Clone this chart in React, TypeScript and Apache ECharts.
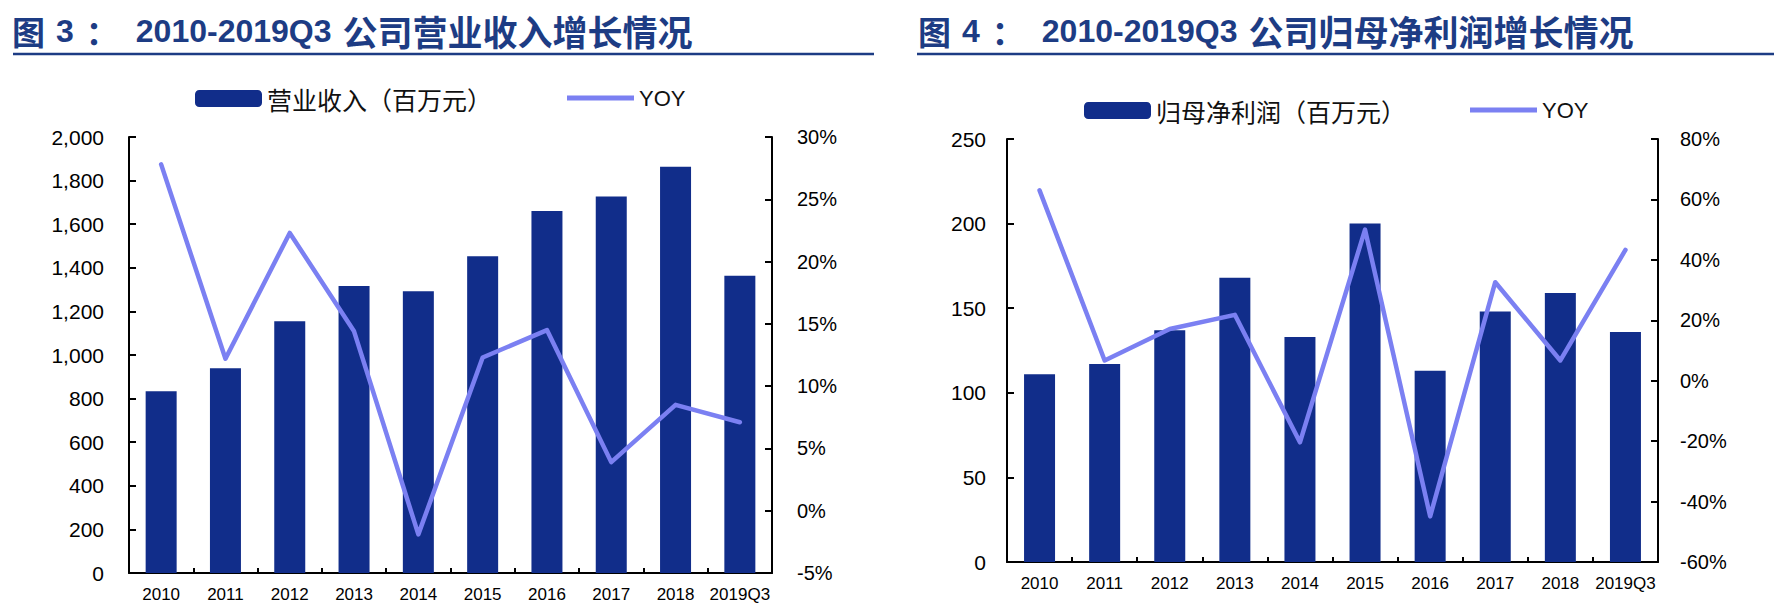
import React, { useEffect, useRef } from 'react';
import * as echarts from 'echarts';

const categories = ['2010', '2011', '2012', '2013', '2014', '2015', '2016', '2017', '2018', '2019Q3'];

// 图3: 营业收入 (百万元) and YOY (%)
const revenue = [834, 939, 1155, 1317, 1293, 1453, 1660, 1727, 1864, 1363];
const revenueYoy = [27.8, 12.2, 22.3, 14.4, -1.9, 12.3, 14.5, 3.9, 8.5, 7.1];

// 图4: 归母净利润 (百万元) and YOY (%)
const profit = [111, 117, 137, 168, 133, 200, 113, 148, 159, 136];
const profitYoy = [63.0, 6.7, 17.1, 21.8, -20.4, 50.0, -44.9, 32.6, 6.7, 43.3];

const BAR = '#112d8a';
const LINE = '#7b80f2';
const TITLE = '#1d3c84';
const NUM_FONT = '"Liberation Sans", Arial, sans-serif';
const CJK_FONT = '"Noto Sans CJK SC", sans-serif';

const titleRich = {
  a: { fontFamily: CJK_FONT, fontSize: 33, color: TITLE },
  n: { fontFamily: NUM_FONT, fontSize: 32, fontWeight: 'bold', color: TITLE, padding: [0, 0, 0, 11] },
  c: { fontFamily: CJK_FONT, fontSize: 33, color: TITLE, padding: [0, 0, 0, 12] },
  b: { fontFamily: NUM_FONT, fontSize: 32, fontWeight: 'bold', color: TITLE, padding: [0, 0, 0, 17] },
  d: { fontFamily: CJK_FONT, fontSize: 35, color: TITLE, padding: [0, 0, 0, 11] },
};

const legendText = {
  fontFamily: CJK_FONT,
  fontSize: 25,
  color: '#111',
};

const yoyText = { fontFamily: NUM_FONT, fontSize: 22, color: '#111' };

const App = () => {
  const chartRef = useRef<any>(null);

  useEffect(() => {
    const chart = echarts.init(chartRef.current, null, { renderer: 'svg' });

    const valueAxis = (grid: number, min: number, max: number, interval: number, right: boolean, margin: number, size: number, fmt: any) => ({
      type: 'value',
      gridIndex: grid,
      position: right ? 'right' : 'left',
      min,
      max,
      interval,
      splitLine: { show: false },
      axisLine: { show: true, lineStyle: { color: '#000', width: 2 } },
      axisTick: { show: true, inside: true, length: 7, lineStyle: { color: '#000', width: 2 } },
      axisLabel: {
        margin,
        fontFamily: NUM_FONT,
        fontSize: size,
        color: '#000',
        formatter: fmt,
      },
    });

    const catAxis = (grid: number) => ({
      type: 'category',
      gridIndex: grid,
      data: categories,
      axisLine: { show: true, lineStyle: { color: '#000', width: 2 } },
      axisTick: { show: true, inside: true, length: 5, lineStyle: { color: '#000', width: 2 } },
      axisLabel: { margin: 13, fontFamily: NUM_FONT, fontSize: 17, color: '#000', interval: 0 },
    });

    const thousands = (v: number) => v.toLocaleString('en-US');
    const pct = (v: number) => v + '%';

    const option: any = {
      animation: false,
      backgroundColor: '#fff',
      title: [
        {
          text: '{a|图}{n|3}{c|：}{b|2010-2019Q3}{d|公司营业收入增长情况}',
          left: 12,
          top: 13,
          padding: 0,
          textStyle: { rich: titleRich },
        },
        {
          text: '{a|图}{n|4}{c|：}{b|2010-2019Q3}{d|公司归母净利润增长情况}',
          left: 918,
          top: 13,
          padding: 0,
          textStyle: { rich: titleRich },
        },
      ],
      graphic: [
        { type: 'line', shape: { x1: 13, y1: 54, x2: 874, y2: 54 }, style: { stroke: TITLE, lineWidth: 2.5 } },
        { type: 'line', shape: { x1: 917, y1: 54, x2: 1774, y2: 54 }, style: { stroke: TITLE, lineWidth: 2.5 } },
      ],
      legend: [
        { data: ['营业收入（百万元）'], left: 195, top: 86, padding: 0, itemWidth: 67, itemHeight: 17, textStyle: legendText },
        { data: [{ name: 'YOY', icon: 'rect' }], left: 567, top: 87, padding: 0, itemWidth: 67, itemHeight: 5, textStyle: yoyText },
        { data: ['归母净利润（百万元）'], left: 1084, top: 98, padding: 0, itemWidth: 67, itemHeight: 17, textStyle: legendText },
        { data: [{ name: 'YOY', icon: 'rect' }], left: 1470, top: 99, padding: 0, itemWidth: 67, itemHeight: 5, textStyle: yoyText },
      ],
      grid: [
        { left: 129, top: 137, width: 643, height: 436 },
        { left: 1007, top: 139, width: 651, height: 423 },
      ],
      xAxis: [catAxis(0), catAxis(1)],
      yAxis: [
        valueAxis(0, 0, 2000, 200, false, 25, 21, thousands),
        valueAxis(0, -5, 30, 5, true, 25, 20, pct),
        valueAxis(1, 0, 250, 50, false, 21, 21, thousands),
        valueAxis(1, -60, 80, 20, true, 22, 20, pct),
      ],
      series: [
        {
          name: '营业收入（百万元）',
          type: 'bar',
          xAxisIndex: 0,
          yAxisIndex: 0,
          data: revenue,
          barWidth: 31,
          itemStyle: { color: BAR },
        },
        {
          name: 'YOY',
          type: 'line',
          xAxisIndex: 0,
          yAxisIndex: 1,
          data: revenueYoy,
          symbol: 'none',
          z: 5,
          lineStyle: { color: LINE, width: 4.5, join: 'round', cap: 'round' },
          itemStyle: { color: LINE },
        },
        {
          name: '归母净利润（百万元）',
          type: 'bar',
          xAxisIndex: 1,
          yAxisIndex: 2,
          data: profit,
          barWidth: 31,
          itemStyle: { color: BAR },
        },
        {
          name: 'YOY',
          type: 'line',
          xAxisIndex: 1,
          yAxisIndex: 3,
          data: profitYoy,
          symbol: 'none',
          z: 5,
          lineStyle: { color: LINE, width: 4.5, join: 'round', cap: 'round' },
          itemStyle: { color: LINE },
        },
      ],
    };

    chart.setOption(option);

    return () => {
      chart.dispose();
    };
  }, []);

  return (
    <div
      ref={chartRef}
      style={{ position: 'fixed', left: 0, top: 0, width: '1774px', height: '606px', background: '#fff' }}
    />
  );
};

export default App;
